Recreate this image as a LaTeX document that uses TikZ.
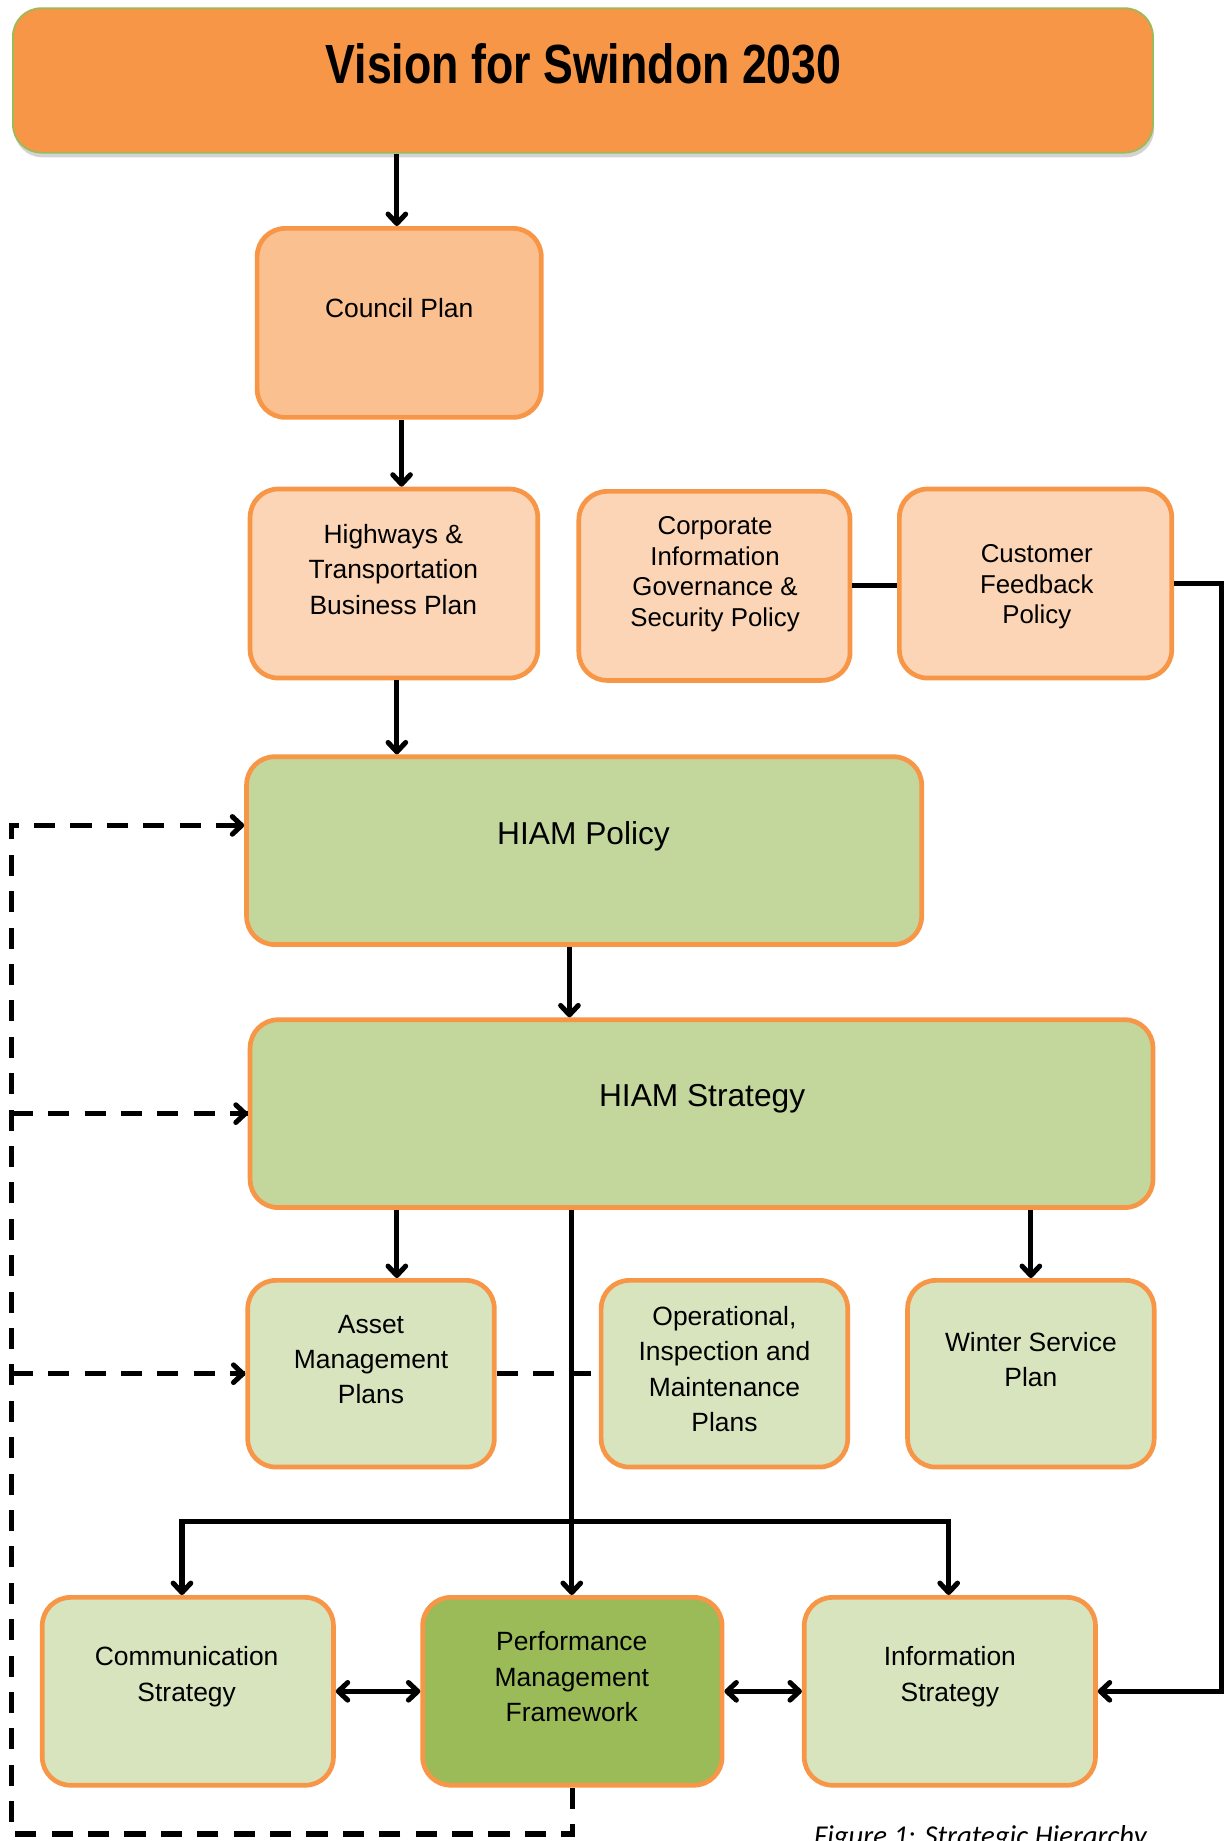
\documentclass[tikz,border=0pt]{standalone}
\usepackage{fontspec}
\usepackage{graphicx}
\setmainfont{Liberation Sans}
\newfontfamily\capfont{Carlito}
\usetikzlibrary{arrows.meta,shadows,calc}
\definecolor{orgA}{HTML}{F79646}
\definecolor{orgB}{HTML}{FAC090}
\definecolor{orgC}{HTML}{FBD5B5}
\definecolor{grnA}{HTML}{9BBB59}
\definecolor{grnB}{HTML}{C3D69B}
\definecolor{grnC}{HTML}{D7E4BD}
\tikzset{
  box/.style={draw=orgA, line width=4pt, rounded corners=24pt},
  txt/.style={align=center, inner sep=0pt, font=\fontsize{22.5}{30}\selectfont},
  bigtxt/.style={align=center, inner sep=0pt, font=\fontsize{27}{32}\selectfont},
  con/.style={line width=4.3pt, draw=black},
  tipb/.tip={Straight Barb[length=8pt,width=15pt,round]},
  arr/.style={con, -tipb},
  darr/.style={con, tipb-tipb},
  dsh/.style={line width=4.3pt, dash pattern=on 18pt off 13pt},
}
\begin{document}
\begin{tikzpicture}[x=1pt,y=-1pt]
\useasboundingbox (0,0) rectangle (1045,1568);
\clip (0,0) rectangle (1045,1568);
% title
\node[draw=grnA, line width=1.5pt, fill=orgA, rounded corners=24pt, minimum width=971pt, minimum height=123pt,
  drop shadow={shadow xshift=1pt, shadow yshift=-4pt, opacity=0.35}] (title) at (496.5,68.5) {};
\node[inner sep=0pt, font=\bfseries\fontsize{47}{50}\selectfont] (titletxt) at (497,54) {\scalebox{0.81}[1]{Vision for Swindon 2030}};
% row 1
\node[box, fill=orgB, minimum width=242pt, minimum height=161pt] (council) at (340,275) {};
\node[txt] (counciltxt) at (340,262) {Council Plan};
% row 2
\node[box, fill=orgC, minimum width=245pt, minimum height=161pt] (highways) at (335.5,497) {};
\node[txt] (highwaystxt) at (335,485) {Highways \&\\Transportation\\Business Plan};
\node[box, fill=orgC, minimum width=231pt, minimum height=161pt] (corporate) at (608.5,499) {};
\node[txt, font=\fontsize{22}{26}\selectfont] (corporatetxt) at (609,489) {Corporate\\Information\\Governance \&\\Security Policy};
\node[box, fill=orgC, minimum width=232pt, minimum height=161pt] (customer) at (882,497) {};
\node[txt, font=\fontsize{22}{26}\selectfont] (customertxt) at (883,500) {Customer\\Feedback\\Policy};
% HIAM
\node[box, fill=grnB, minimum width=575pt, minimum height=160pt] (hpolicy) at (497.5,724.5) {};
\node[bigtxt] (hpolicytxt) at (497,712) {HIAM Policy};
\node[box, fill=grnB, minimum width=769pt, minimum height=160pt] (hstrat) at (597.5,948.5) {};
\node[bigtxt] (hstrattxt) at (598,936) {HIAM Strategy};
% row 4
\node[box, fill=grnC, minimum width=210pt, minimum height=159pt] (asset) at (316,1170) {};
\node[txt] (assettxt) at (316,1158) {Asset\\Management\\Plans};
\node[box, fill=grnC, minimum width=210pt, minimum height=159pt] (oper) at (617,1170) {};
\node[txt] (opertxt) at (617,1166) {Operational,\\Inspection and\\Maintenance\\Plans};
\node[box, fill=grnC, minimum width=210pt, minimum height=159pt] (winter) at (878,1170) {};
\node[txt] (wintertxt) at (878,1158) {Winter Service\\Plan};
% row 5
\node[box, fill=grnC, minimum width=248pt, minimum height=160pt] (comm) at (160,1440.5) {};
\node[txt] (commtxt) at (159,1428) {Communication\\Strategy};
\node[box, fill=grnA, minimum width=255pt, minimum height=160pt] (pmf) at (487.5,1440.5) {};
\node[txt] (pmftxt) at (487,1428) {Performance\\Management\\Framework};
\node[box, fill=grnC, minimum width=248pt, minimum height=160pt] (info) at (809,1440.5) {};
\node[txt] (infotxt) at (809,1428) {Information\\Strategy};
% caption
\node[inner sep=0pt, anchor=base, font=\capfont\itshape\fontsize{24.5}{28}\selectfont] (caption) at (835,1572) {Figure 1: Strategic Hierarchy};
% connectors
\coordinate (ta) at (338,0);
\draw[arr] (title.south -| ta) -- (council.north -| ta);
\coordinate (cb) at (342,0);
\draw[arr] (council.south -| cb) -- (highways.north -| cb);
\coordinate (hb) at (338,0);
\draw[arr] (highways.south -| hb) -- (hpolicy.north -| hb);
\coordinate (pb) at (485,0);
\draw[arr] (hpolicy.south -| pb) -- (hstrat.north -| pb);
\coordinate (sb) at (338,0);
\draw[arr] (hstrat.south -| sb) -- (asset.north -| sb);
\draw[arr] (hstrat.south -| winter.north) -- (winter.north);
\coordinate (vx) at (487,0);
\coordinate (junc) at (487,1296);
\draw[arr] (hstrat.south -| vx) -- (pmf.north -| vx);
\coordinate (cx) at (155,0);
\coordinate (ix) at (808,0);
\draw[arr] (junc) -| (comm.north -| cx);
\draw[arr] (junc) -| (info.north -| ix);
\draw[darr] (comm.east) -- (pmf.west);
\draw[darr] (pmf.east) -- (info.west);
\draw[con] (corporate.east) -- (customer.west |- corporate.east);
\coordinate (rx) at (1040,0);
\draw[arr] (customer.east) -| (rx |- info.east) -- (info.east);
\draw[dsh] (asset.east) -- (oper.west);
% dashed feedback loop
\coordinate (dl) at (10,1562);
\coordinate (ptgt) at ($(hpolicy.west)+(0,-21.5)$);
\draw[dsh] (pmf.south) |- (dl) |- (ptgt);
\draw[arr] ($(ptgt)+(-6,0)$) -- (ptgt);
\draw[dsh] (dl |- hstrat.west) -- (hstrat.west);
\draw[arr] ($(hstrat.west)+(-6,0)$) -- (hstrat.west);
\draw[dsh] (dl |- asset.west) -- (asset.west);
\draw[arr] ($(asset.west)+(-6,0)$) -- (asset.west);
\end{tikzpicture}
\end{document}
